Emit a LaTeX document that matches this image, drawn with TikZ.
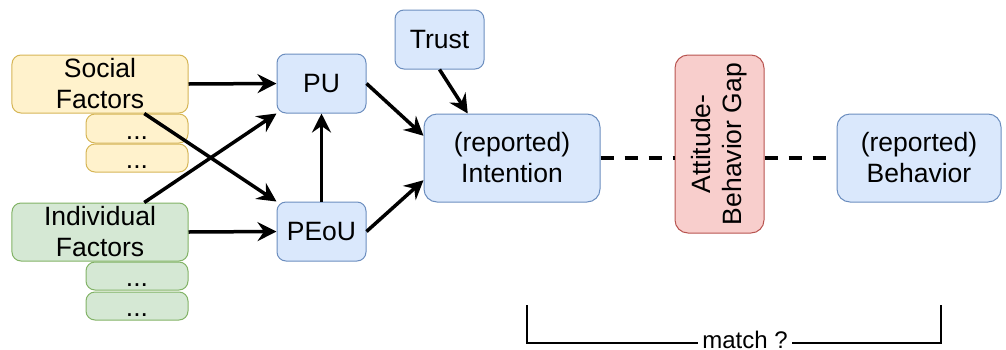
\documentclass[tikz,border=0pt]{standalone}
\usepackage{fontspec}
\setmainfont{Liberation Sans}
\usetikzlibrary{arrows.meta,calc}
\definecolor{yelf}{HTML}{FFF2CC}\definecolor{yeld}{HTML}{D6B656}
\definecolor{grnf}{HTML}{D5E8D4}\definecolor{grnd}{HTML}{82B366}
\definecolor{bluf}{HTML}{DAE8FC}\definecolor{blud}{HTML}{6C8EBF}
\definecolor{redf}{HTML}{F8CECC}\definecolor{redd}{HTML}{B85450}
\newcommand{\lowdots}{\raisebox{-10.5bp}[0pt][0pt]{...}}
\tikzset{
  box/.style={rectangle, rounded corners=9bp, line width=1bp, inner sep=0pt, align=center,
    font=\fontsize{26.5bp}{31bp}\selectfont},
  ybox/.style={box, fill=yelf, draw=yeld},
  gbox/.style={box, fill=grnf, draw=grnd},
  bbox/.style={box, fill=bluf, draw=blud},
  rbox/.style={box, fill=redf, draw=redd},
  arr/.style={line width=3.5bp, -{Stealth[length=19bp,width=19bp,inset=6.5bp]}},
  dsh/.style={line width=4bp, dash pattern=on 13bp off 11bp},
}
\begin{document}
\begin{tikzpicture}[x=1bp,y=-1bp]
\useasboundingbox (0,0) rectangle (1006,349);
% dots boxes
\node[ybox, minimum width=102bp, minimum height=29bp] (sd1) at (137,128.5) {\lowdots};
\node[ybox, minimum width=102bp, minimum height=28bp] (sd2) at (137,158) {\lowdots};
\node[gbox, minimum width=102bp, minimum height=28bp] (id1) at (137,276) {\lowdots};
\node[gbox, minimum width=102bp, minimum height=28bp] (id2) at (137,306) {\lowdots};
% main boxes
\node[ybox, minimum width=176bp, minimum height=58bp] (soc) at (100,84) {Social\\Factors};
\node[gbox, minimum width=176bp, minimum height=58bp] (ind) at (100,232) {Individual\\Factors};
\node[bbox, minimum width=89bp, minimum height=59bp] (pu) at (321.5,83.5) {PU};
\node[bbox, minimum width=89bp, minimum height=59bp] (peou) at (321.5,231.5) {PEoU};
\node[bbox, minimum width=89bp, minimum height=59bp] (trust) at (439.5,39.5) {Trust};
\node[bbox, rounded corners=13bp, minimum width=176bp, minimum height=88bp] (int) at (512,158) {(reported)\\Intention};
\node[rbox, rounded corners=13bp, minimum width=178bp, minimum height=89bp, rotate=90] (gap) at (719.5,144) {Attitude-\\Behavior Gap};
\node[bbox, rounded corners=13bp, minimum width=164bp, minimum height=88bp] (beh) at (919,158) {(reported)\\Behavior};
% arrows
\draw[arr] (soc.east) -- (pu.west);
\draw[arr] ($(soc.south west)!0.75!(soc.south east)$) -- (peou.north west);
\draw[arr] ($(ind.north west)!0.75!(ind.north east)$) -- (pu.south west);
\draw[arr] (ind.east) -- (peou.west);
\draw[arr] (peou.north) -- (pu.south);
\draw[arr] (pu.east) -- ($(int.north west)!0.25!(int.south west)$);
\draw[arr] (peou.east) -- ($(int.north west)!0.75!(int.south west)$);
\draw[arr] (trust.south) -- ($(int.north west)!0.25!(int.north east)$);
% dashed
\draw[dsh] (int.east) -- (int.east -| gap.north);
\draw[dsh] (gap.south |- beh.west) -- (beh.west);
% bracket
\node[inner sep=4bp, anchor=base, font=\fontsize{24bp}{28bp}\selectfont] (match) at (745,348) {match ?};
\coordinate (bl) at (527,305);
\coordinate (br) at (941,305);
\coordinate (bbl) at (527,343);
\coordinate (bbr) at (941,343);
\draw[line width=2bp] (bl) -- (bbl) -- (bbl -| match.west);
\draw[line width=2bp] (br) -- (bbr) -- (bbr -| match.east);
\end{tikzpicture}
\end{document}
